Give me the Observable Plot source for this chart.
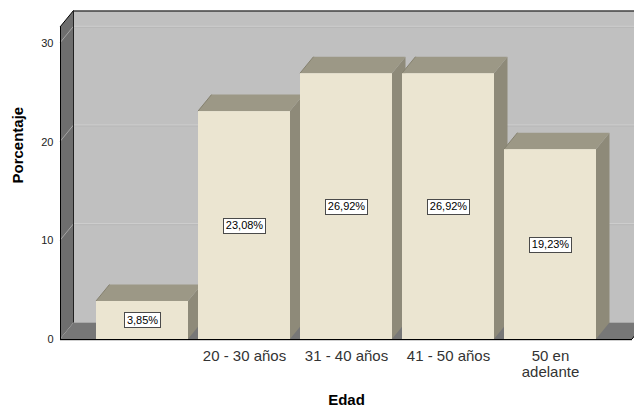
<!DOCTYPE html>
<html>
<head>
<meta charset="utf-8">
<script src="https://cdn.jsdelivr.net/npm/d3@7"></script>
<script src="https://cdn.jsdelivr.net/npm/@observablehq/plot@0.6"></script>
<style>
  html, body { margin: 0; padding: 0; background: #fff; overflow: hidden; }
</style>
</head>
<body>
<div id="chart"></div>
<script>
// Age groups and their share of respondents (%)
const categories = ["", "20 - 30 años", "31 - 40 años", "41 - 50 años", "50 en\nadelante"];
const percentages = [3.85, 23.08, 26.92, 26.92, 19.23];
const yTicks = [0, 10, 20, 30];
const gridValues = [10, 20, 30];
const yMax = 31.6;

const data = categories.map((edad, i) => ({edad, pct: percentages[i]}));
const fmt = v => v.toFixed(2).replace(".", ",") + "%";

const FONT = "'Liberation Sans', Arial, sans-serif";
const DX = 13.5, DY = 16.5; // depth offset of the 3D box

const ctx2d = document.createElement("canvas").getContext("2d");
ctx2d.font = "11px " + FONT;
const textWidth = s => ctx2d.measureText(s).width;

function poly(g, pts, fill, stroke) {
  g.append("polygon")
    .attr("points", pts.map(p => p.join(",")).join(" "))
    .attr("fill", fill)
    .attr("stroke", stroke || "none")
    .attr("stroke-width", stroke ? 1 : null);
}
function seg(g, a, b, stroke, w = 1) {
  g.append("line")
    .attr("x1", a[0]).attr("y1", a[1]).attr("x2", b[0]).attr("y2", b[1])
    .attr("stroke", stroke).attr("stroke-width", w);
}

// Back wall, left wall, floor and grid lines
function walls(index, {y}, values, dims) {
  const g = d3.create("svg:g");
  const x0 = dims.marginLeft, x1 = dims.width - dims.marginRight;
  const y0 = y(0), yt = y(yMax);
  poly(g, [[x0 + DX, yt - DY], [x1 + DX, yt - DY], [x1 + DX, y0 - DY], [x0 + DX, y0 - DY]], "#c0c0c0");
  for (const v of gridValues) {
    seg(g, [x0 + DX, y(v) - DY], [x1 + DX, y(v) - DY], "#d2d2d2");
    seg(g, [x0 + DX, y(v) - DY + 1], [x1 + DX, y(v) - DY + 1], "#b6b6b6");
  }
  poly(g, [[x0, yt], [x0 + DX, yt - DY], [x0 + DX, y0 - DY], [x0, y0]], "#6e6e6e");
  for (const v of gridValues) seg(g, [x0, y(v)], [x0 + DX, y(v) - DY], "#a4a4a4");
  poly(g, [[x0, y0], [x0 + DX, y0 - DY], [x1 + DX, y0 - DY], [x1, y0]], "#777777");
  // outlines
  seg(g, [x0 + DX, yt - DY + 0.5], [x1 + DX, yt - DY + 0.5], "#000");
  seg(g, [x0, yt], [x0 + DX, yt - DY], "#000");
  seg(g, [x0 + 0.5, yt], [x0 + 0.5, y0], "#000");
  seg(g, [x0 + DX, yt - DY], [x0 + DX, y0 - DY], "#222");
  seg(g, [x0, y0 + 0.5], [x1, y0 + 0.5], "#000");
  seg(g, [x0, y0 + 1.5], [x1, y0 + 1.5], "#cfcfcf");
  seg(g, [x1, y0], [x1 + DX, y0 - DY], "#000");
  return g.node();
}

// Top and side faces of each bar, drawn left to right
function barDepth(index, {x, y}) {
  const g = d3.create("svg:g");
  const w = x.bandwidth();
  data.forEach(d => {
    const xl = x(d.edad), xr = xl + w, yt = y(d.pct), yb = y(0);
    poly(g, [[xr, yt], [xr + DX, yt - DY], [xr + DX, yb - DY], [xr, yb]], "#8e8a79");
    poly(g, [[xl, yt], [xl + DX, yt - DY], [xr + DX, yt - DY], [xr, yt]], "#9c9886");
    seg(g, [xl, yt], [xl + DX, yt - DY], "#85816f");
  });
  return g.node();
}

// White boxes behind the value labels
function labelBoxes(index, {x, y}) {
  const g = d3.create("svg:g");
  const w = x.bandwidth();
  data.forEach(d => {
    const cx = x(d.edad) + w / 2, cy = y(d.pct / 2);
    const bw = Math.round(textWidth(fmt(d.pct)) + 5), bh = 15;
    g.append("rect")
      .attr("x", Math.round(cx - bw / 2) + 0.5).attr("y", Math.round(cy - bh / 2) + 0.5)
      .attr("width", bw).attr("height", bh)
      .attr("fill", "#fff").attr("stroke", "#4a4a4a");
  });
  return g.node();
}

const chart = Plot.plot({
  width: 634,
  height: 410,
  marginLeft: 60,
  marginRight: 2,
  marginTop: 27,
  marginBottom: 71,
  style: {fontFamily: FONT, background: "#fff", overflow: "visible"},
  x: {domain: categories, paddingInner: 0.1, paddingOuter: 0.33},
  y: {domain: [0, yMax]},
  marks: [
    walls,
    barDepth,
    Plot.barY(data, {x: "edad", y: "pct", fill: "#ebe5d1"}),
    labelBoxes,
    Plot.text(data, {x: "edad", y: d => d.pct / 2, text: d => fmt(d.pct), fontSize: 11, fill: "#000"}),
    Plot.axisY({ticks: yTicks, tickSize: 0, tickPadding: 7, fontSize: 11, fill: "#222", label: null}),
    Plot.axisX({tickSize: 0, tickPadding: 10, fontSize: 15, lineHeight: 1.07, fill: "#333", label: null}),
    Plot.text(["Porcentaje"], {frameAnchor: "left", dx: -42, rotate: -90, fontSize: 15, fontWeight: "bold", fill: "#000"}),
    Plot.text(["Edad"], {frameAnchor: "bottom", dy: 65, fontSize: 15, fontWeight: "bold", fill: "#000"})
  ]
});
document.getElementById("chart").append(chart);
</script>
</body>
</html>
